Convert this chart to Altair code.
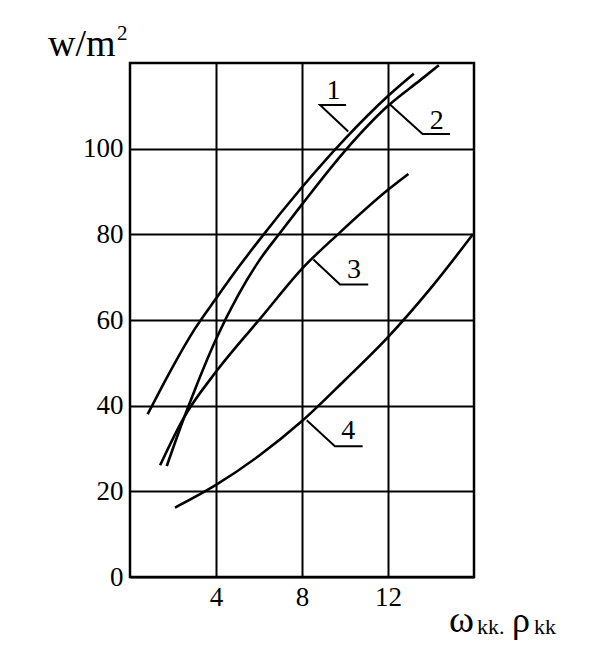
import altair as alt
import pandas as pd

# ---- data ----
c1_x = [0.82, 2.0, 3.0, 4.0, 5.0, 6.0, 8.0, 10.0, 12.0, 13.2]
c1_y = [38.0, 49.2, 57.8, 65.0, 72.0, 78.6, 91.0, 102.3, 112.3, 117.5]
c2_x = [1.71, 2.5, 3.0, 4.0, 5.0, 6.0, 7.0, 8.0, 10.0, 12.0, 13.5, 14.37]
c2_y = [25.9, 37.0, 43.5, 55.5, 65.5, 73.8, 80.5, 87.0, 99.5, 110.0, 116.0, 119.5]
c3_x = [1.40, 2.48, 4.0, 5.66, 6.0, 8.06, 9.67, 12.0, 12.95]
c3_y = [26.1, 37.0, 47.9, 58.0, 60.0, 72.3, 80.0, 90.4, 94.1]
c4_x = [2.09, 4.0, 6.0, 8.0, 10.0, 12.0, 14.0, 15.95]
c4_y = [16.2, 21.5, 28.3, 36.4, 46.0, 56.0, 67.5, 80.0]

lead_id = [1, 1, 1, 2, 2, 2, 3, 3, 3, 4, 4, 4]
lead_x = [10.15, 8.84, 10.05, 12.09, 13.61, 14.88, 8.53, 9.77, 11.08, 8.22, 9.53, 10.82]
lead_y = [104.0, 110.2, 110.2, 110.3, 103.4, 103.4, 74.1, 68.3, 68.3, 36.6, 30.5, 30.5]

lab_text = ["1", "2", "3", "4"]
lab_x = [9.46, 14.27, 10.42, 10.15]
lab_y = [113.5, 106.5, 71.6, 34.1]

x_ticks = [4, 8, 12]
y_ticks = [0, 20, 40, 60, 80, 100]

FONT = "Liberation Serif"

rows = []
for cid, xs_, ys_ in [(1, c1_x, c1_y), (2, c2_x, c2_y), (3, c3_x, c3_y), (4, c4_x, c4_y)]:
    for i, (a, b) in enumerate(zip(xs_, ys_)):
        rows.append({"curve": cid, "x": a, "y": b, "o": i})
curves = pd.DataFrame(rows)

leaders = pd.DataFrame({"id": lead_id, "x": lead_x, "y": lead_y,
                        "o": list(range(len(lead_id)))})
labels = pd.DataFrame({"t": lab_text, "x": lab_x, "y": lab_y})

xs = alt.Scale(domain=[0, 16], nice=False, zero=True)
ys = alt.Scale(domain=[0, 120], nice=False, zero=True)

xaxis = alt.Axis(values=x_ticks, title=None, ticks=False, domain=False,
                 grid=True, gridColor="black", gridWidth=2, gridOpacity=1,
                 labelFont=FONT, labelFontSize=27, labelColor="black",
                 labelPadding=7)
yaxis = alt.Axis(values=y_ticks, title=None, ticks=False, domain=False,
                 grid=True, gridColor="black", gridWidth=2, gridOpacity=1,
                 labelFont=FONT, labelFontSize=27, labelColor="black",
                 labelPadding=7)

base_lines = alt.Chart(curves).mark_line(
    color="black", strokeWidth=2.6, interpolate="monotone"
).encode(
    x=alt.X("x:Q", scale=xs, axis=xaxis),
    y=alt.Y("y:Q", scale=ys, axis=yaxis),
    detail="curve:N",
    order="o:Q",
)

lead = alt.Chart(leaders).mark_line(color="black", strokeWidth=2).encode(
    x=alt.X("x:Q", scale=xs),
    y=alt.Y("y:Q", scale=ys),
    detail="id:N",
    order="o:Q",
)

labs = alt.Chart(labels).mark_text(
    font=FONT, fontSize=28, color="black", baseline="middle", align="center"
).encode(
    x=alt.X("x:Q", scale=xs),
    y=alt.Y("y:Q", scale=ys),
    text="t:N",
)

dummy = pd.DataFrame({"a": [0]})
def txt(s, x, y, size, align="left"):
    return alt.Chart(dummy).mark_text(
        text=s, font=FONT, fontSize=size, color="black",
        align=align, baseline="alphabetic"
    ).encode(x=alt.value(x), y=alt.value(y))

ytitle1 = txt("w/m", -82, -7, 38)
ytitle2 = txt("2", -13, -23, 21)
xt1 = txt("ω", 319, 569, 38)
xt2 = txt("kk.", 347, 571, 22)
xt3 = txt("ρ", 382, 569, 36)
xt4 = txt("kk", 404, 571, 22)

chart = alt.layer(base_lines, lead, labs, ytitle1, ytitle2, xt1, xt2, xt3, xt4).properties(
    width=344, height=514,
    autosize=alt.AutoSizeParams(type="none"),
    padding={"left": 122, "top": 55, "right": 118, "bottom": 84},
).configure_view(stroke="black", strokeWidth=2.5)

chart.save("out.html", embed_options={"renderer": "svg", "actions": False})
